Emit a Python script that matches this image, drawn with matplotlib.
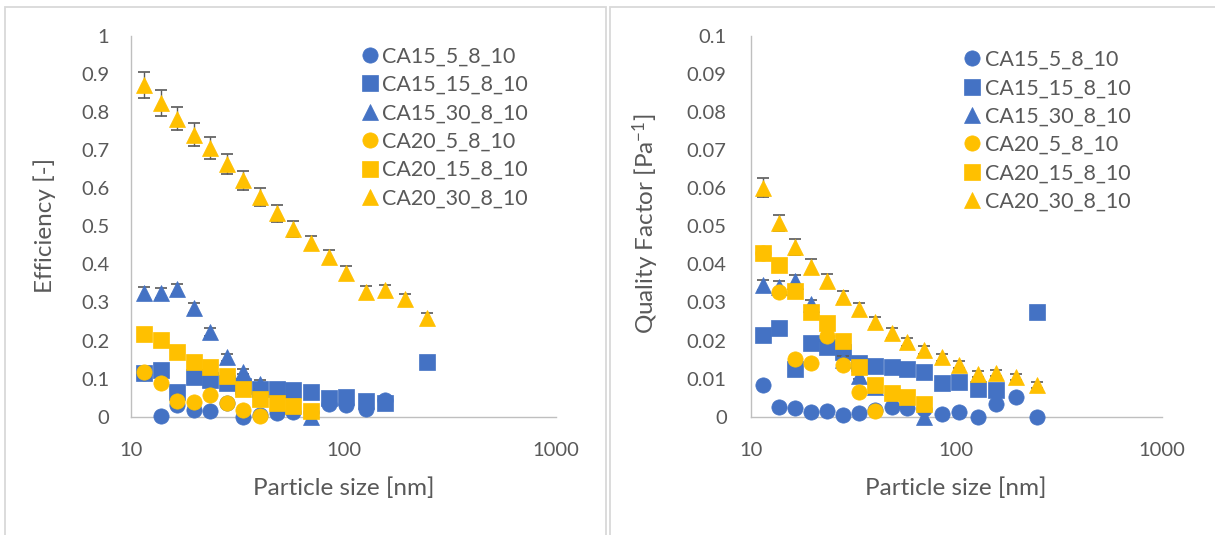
import numpy as np
import matplotlib
matplotlib.use("Agg")
import matplotlib.pyplot as plt
from matplotlib.patches import Rectangle
from matplotlib.lines import Line2D

nan = np.nan

# ---------------- data ----------------
particle_size = [11.5, 13.8, 16.5, 19.7, 23.5, 28.2, 33.7, 40.4, 48.5, 57.6,
                 70.0, 85.0, 103.0, 127.0, 156.0, 195.0, 246.0]

series_names = ["CA15_5_8_10", "CA15_15_8_10", "CA15_30_8_10",
                "CA20_5_8_10", "CA20_15_8_10", "CA20_30_8_10"]

# Efficiency [-]
eff_CA15_5 = [0.115, 0.003, 0.031, 0.018, 0.016, 0.035, 0.000, 0.004, 0.009, 0.013,
              0.012, 0.034, 0.030, 0.021, 0.045, nan, nan]
eff_CA15_15 = [0.114, 0.123, 0.066, 0.105, 0.096, 0.088, 0.080, 0.073, 0.073, 0.070,
               0.064, 0.049, 0.051, 0.041, 0.037, nan, 0.144]
eff_CA15_30 = [0.325, 0.325, 0.335, 0.285, 0.222, 0.156, 0.118, 0.085, nan, nan,
               0.000, nan, nan, nan, nan, nan, nan]
eff_CA20_5 = [0.117, 0.088, 0.042, 0.038, 0.057, 0.037, 0.018, 0.003, nan, nan,
              nan, nan, nan, nan, nan, nan, nan]
eff_CA20_15 = [0.216, 0.201, 0.171, 0.144, 0.130, 0.107, 0.072, 0.046, 0.035, 0.028,
               0.016, nan, nan, nan, nan, nan, nan]
eff_CA20_30 = [0.871, 0.824, 0.783, 0.741, 0.706, 0.663, 0.621, 0.577, 0.534, 0.493,
               0.456, 0.419, 0.378, 0.327, 0.332, 0.308, 0.258]

eff_err_CA15_30 = [0.015, 0.012, 0.013, 0.013, 0.010, 0.010, 0.006, 0.011, nan, nan,
                   0.0, nan, nan, nan, nan, nan, nan]
eff_err_CA20_30 = [0.035, 0.033, 0.030, 0.030, 0.028, 0.026, 0.025, 0.023, 0.022, 0.020,
                   0.019, 0.018, 0.018, 0.016, 0.015, 0.014, 0.014]

# Quality factor [Pa^-1]
qf_CA15_5 = [0.0083, 0.0025, 0.0022, 0.0012, 0.0015, 0.0005, 0.0010, 0.0018, 0.0026, 0.0024,
             0.0020, 0.0006, 0.0013, 0.0000, 0.0033, 0.0052, 0.0000]
qf_CA15_15 = [0.0214, 0.0232, 0.0124, 0.0193, 0.0184, 0.0171, 0.0142, 0.0134, 0.0130, 0.0125,
              0.0117, 0.0088, 0.0092, 0.0073, 0.0070, nan, 0.0276]
qf_CA15_30 = [0.0346, 0.0340, 0.0357, 0.0295, 0.0221, 0.0150, 0.0107, 0.0078, nan, nan,
              0.0000, nan, nan, nan, nan, nan, nan]
qf_CA20_5 = [0.0431, 0.0327, 0.0151, 0.0140, 0.0213, 0.0136, 0.0066, 0.0016, nan, nan,
             nan, nan, nan, nan, nan, nan, nan]
qf_CA20_15 = [0.0431, 0.0398, 0.0331, 0.0276, 0.0245, 0.0199, 0.0131, 0.0083, 0.0061, 0.0052,
              0.0033, nan, nan, nan, nan, nan, nan]
qf_CA20_30 = [0.0602, 0.0509, 0.0446, 0.0394, 0.0356, 0.0315, 0.0282, 0.0249, 0.0220, 0.0197,
              0.0175, 0.0156, 0.0136, 0.0111, 0.0114, 0.0105, 0.0083]

qf_err_CA15_30 = [0.0014, 0.0016, 0.0015, 0.0011, 0.0010, 0.0010, 0.0008, 0.0008, nan, nan,
                  0.0, nan, nan, nan, nan, nan, nan]
qf_err_CA20_30 = [0.0025, 0.0021, 0.0020, 0.0019, 0.0018, 0.0015, 0.0016, 0.0013, 0.0012, 0.0010,
                  0.0010, 0.0009, 0.0009, 0.0008, 0.0008, 0.0008, 0.0007]

x_ticks = [10, 100, 1000]
x_tick_labels = ["10", "100", "1000"]
eff_ticks = [0, 0.1, 0.2, 0.3, 0.4, 0.5, 0.6, 0.7, 0.8, 0.9, 1.0]
eff_tick_labels = ["0", "0.1", "0.2", "0.3", "0.4", "0.5", "0.6", "0.7", "0.8", "0.9", "1"]
qf_ticks = [0, 0.01, 0.02, 0.03, 0.04, 0.05, 0.06, 0.07, 0.08, 0.09, 0.1]
qf_tick_labels = ["0", "0.01", "0.02", "0.03", "0.04", "0.05", "0.06", "0.07", "0.08", "0.09", "0.1"]

# ---------------- style ----------------
BLUE = "#4472C4"
GOLD = "#FFC000"
TXT = "#595959"
AXC = "#BFBFBF"
ERRC = "#595959"

colors = [BLUE, BLUE, BLUE, GOLD, GOLD, GOLD]
markers = ["o", "s", "^", "o", "s", "^"]

plt.rcParams['font.family'] = ['Lato', 'DejaVu Sans']
plt.rcParams['mathtext.default'] = 'regular'

W, H = 1215, 535
fig = plt.figure(figsize=(W / 100, H / 100), dpi=100)
fig.patch.set_facecolor("white")


def fx(px):
    return px / W


def fy(py):
    return 1 - py / H


# chart panels borders
fig.patches.append(Rectangle((fx(5), fy(545)), (606 - 5) / W, (545 - 7) / H,
                             transform=fig.transFigure, fill=False,
                             ec="#D9D9D9", lw=1.3))
fig.patches.append(Rectangle((fx(610), fy(545)), (1230 - 610) / W, (545 - 7) / H,
                             transform=fig.transFigure, fill=False,
                             ec="#D9D9D9", lw=1.3))

ax1 = fig.add_axes([fx(131), fy(416.7), 425 / W, 380.7 / H])
ax2 = fig.add_axes([fx(750.7), fy(416.7), 411.3 / W, 380.7 / H])

eff_series = [eff_CA15_5, eff_CA15_15, eff_CA15_30, eff_CA20_5, eff_CA20_15, eff_CA20_30]
eff_errs = {2: eff_err_CA15_30, 5: eff_err_CA20_30}
qf_series = [qf_CA15_5, qf_CA15_15, qf_CA15_30, qf_CA20_5, qf_CA20_15, qf_CA20_30]
qf_errs = {2: qf_err_CA15_30, 5: qf_err_CA20_30}

MS = 11.0
TICK_FS = 14.5
LAB_FS = 17.5
LEG_FS = 15.5


def draw(ax, series, errs, ylim, yticks, yticklabels, ypad):
    x = np.array(particle_size)
    for i, ys in enumerate(series):
        y = np.array(ys, dtype=float)
        if i in errs:
            e = np.array(errs[i], dtype=float)
            m = ~np.isnan(y) & ~np.isnan(e) & (e > 0)
            ax.errorbar(x[m], y[m], yerr=e[m], fmt="none", ecolor=ERRC,
                        elinewidth=1.0, capsize=4.3, capthick=1.2,
                        zorder=3 + 2 * i, clip_on=False)
        ax.plot(x, y, ls="none", marker=markers[i], ms=MS, mfc=colors[i],
                mec=colors[i], mew=0.5, clip_on=False, zorder=4 + 2 * i)
    ax.set_xscale("log")
    ax.set_xlim(10, 1000)
    ax.set_ylim(*ylim)
    ax.set_xticks(x_ticks)
    ax.set_xticklabels(x_tick_labels)
    ax.xaxis.set_minor_locator(matplotlib.ticker.NullLocator())
    ax.set_yticks(yticks)
    ax.set_yticklabels(yticklabels)
    for s in ["top", "right"]:
        ax.spines[s].set_visible(False)
    for s in ["left", "bottom"]:
        ax.spines[s].set_color(AXC)
        ax.spines[s].set_linewidth(1.0)
        ax.spines[s].set_zorder(1)
    ax.tick_params(axis="both", length=0, labelsize=TICK_FS, labelcolor=TXT)
    ax.tick_params(axis="y", pad=ypad)
    ax.tick_params(axis="x", pad=18)
    ax.set_facecolor("none")


draw(ax1, eff_series, eff_errs, (0, 1), eff_ticks, eff_tick_labels, 15.6)
draw(ax2, qf_series, qf_errs, (0, 0.1), qf_ticks, qf_tick_labels, 17.3)

handles = [Line2D([], [], ls="none", marker=markers[i], ms=MS, mfc=colors[i],
                  mec=colors[i], mew=0.5) for i in range(6)]

for ax, (lx, ly) in [(ax1, (361.0, 46.5)), (ax2, (963.7, 49.8))]:
    ax.legend(handles, series_names, loc="upper left",
              bbox_to_anchor=(fx(lx), fy(ly)), bbox_transform=fig.transFigure,
              frameon=False, fontsize=LEG_FS, handlelength=0.8, handletextpad=0.18,
              labelspacing=0.39, borderpad=0, borderaxespad=0, labelcolor=TXT)

fig.text(fx(45), fy(225), "Efficiency [-]", rotation=90, ha="center", va="center",
         fontsize=LAB_FS, color=TXT)
fig.text(fx(646), fy(224), "Quality Factor [Pa$^{-1}$]", rotation=90, ha="center",
         va="center", fontsize=LAB_FS, color=TXT)
fig.text(fx(343.5), fy(488), "Particle size [nm]", ha="center", va="center",
         fontsize=LAB_FS, color=TXT)
fig.text(fx(956), fy(488), "Particle size [nm]", ha="center", va="center",
         fontsize=LAB_FS, color=TXT)

fig.savefig("out.png", dpi=100)
